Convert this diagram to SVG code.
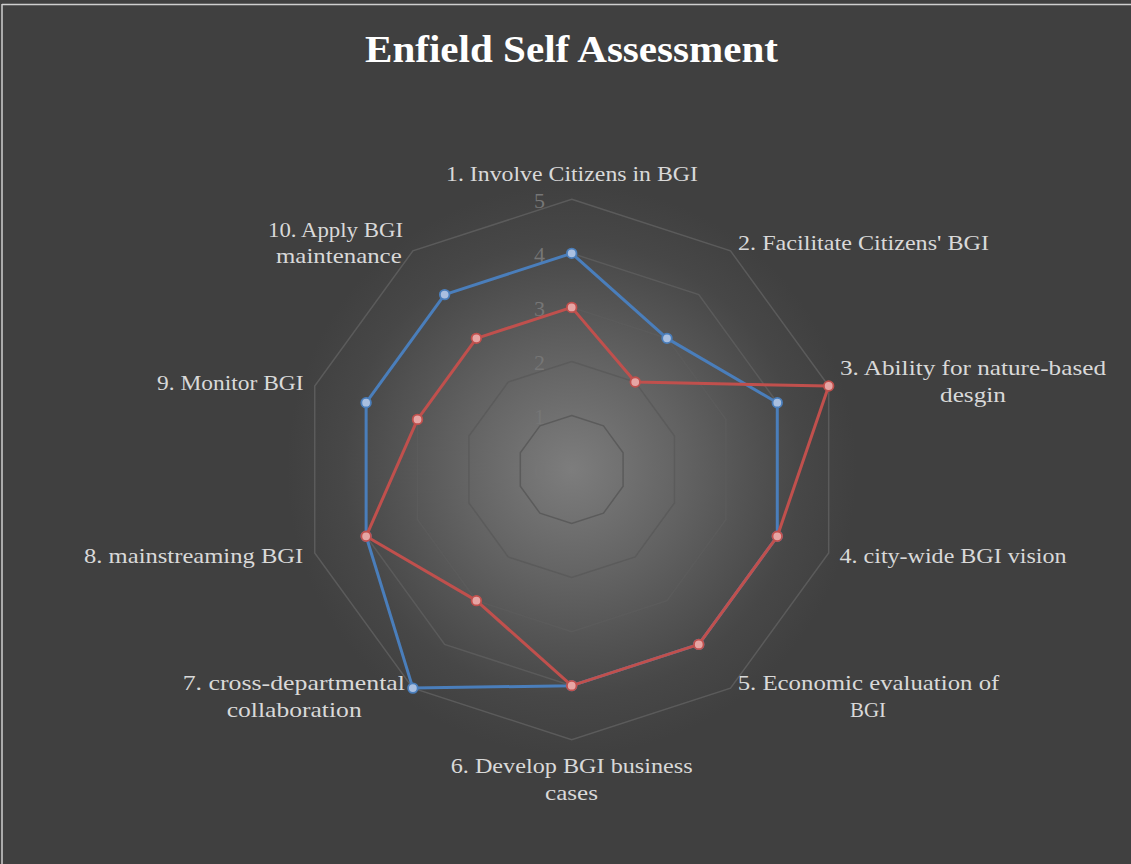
<svg xmlns="http://www.w3.org/2000/svg" width="1131" height="864" viewBox="0 0 1131 864">
<defs>
<radialGradient id="bgGrad" cx="571.7" cy="469.5" r="285" gradientUnits="userSpaceOnUse">
<stop offset="0" stop-color="#7d7d7d"/>
<stop offset="0.4" stop-color="#626262"/>
<stop offset="0.6" stop-color="#545454"/>
<stop offset="0.8" stop-color="#474747"/>
<stop offset="1" stop-color="#404040"/>
</radialGradient>
<style>
.grid{fill:none;stroke:#5b5b5b;stroke-width:1.5}
.val{font-family:"Liberation Serif",serif;font-size:22px;fill:#767676;text-anchor:end}
.cat{font-family:"Liberation Serif",serif;font-size:22px;fill:#d9d9d9}
.title{font-family:"Liberation Serif",serif;font-size:37px;font-weight:bold;fill:#ffffff;text-anchor:middle}
.blue{fill:none;stroke:#4a7ebb;stroke-width:3;stroke-linejoin:round}
.red{fill:none;stroke:#c0504d;stroke-width:3;stroke-linejoin:round}
.bm{fill:#a9bfe0;stroke:#4a7ebb;stroke-width:1.8}
.rm{fill:#e6a5a4;stroke:#c0504d;stroke-width:1.8}
</style>
</defs>
<rect x="0" y="0" width="1131" height="864" fill="#404040"/>
<circle cx="571.7" cy="469.5" r="285" fill="url(#bgGrad)"/>
<line x1="2" y1="4.5" x2="1131" y2="4.5" stroke="#cfcfcf" stroke-width="1.5"/>
<line x1="2" y1="4" x2="2" y2="864" stroke="#cfcfcf" stroke-width="1.5"/>

<text class="title" x="571.5" y="61.5" textLength="413" lengthAdjust="spacingAndGlyphs">Enfield Self Assessment</text>

<g id="gridlines">
<polygon class="grid" points="571.7,415.46 603.46,425.78 623.10,452.80 623.10,486.20 603.46,513.22 571.7,523.54 539.94,513.22 520.30,486.20 520.30,452.80 539.94,425.78"/>
<polygon class="grid" points="571.7,361.42 635.23,382.06 674.49,436.10 674.49,502.90 635.23,556.94 571.7,577.58 508.17,556.94 468.91,502.90 468.91,436.10 508.17,382.06"/>
<polygon class="grid" points="571.7,307.38 666.99,338.34 725.88,419.40 725.88,519.60 666.99,600.66 571.7,631.62 476.41,600.66 417.52,519.60 417.52,419.40 476.41,338.34"/>
<polygon class="grid" points="571.7,253.34 698.76,294.62 777.28,402.70 777.28,536.30 698.76,644.38 571.7,685.66 444.64,644.38 366.12,536.30 366.12,402.70 444.64,294.62"/>
<polygon class="grid" points="571.7,199.30 730.52,250.90 828.68,386.00 828.68,553.00 730.52,688.10 571.7,739.80 412.88,688.10 314.72,553.00 314.72,386.00 412.88,250.90"/>
</g>

<g id="axis-values">
<text class="val" x="545" y="478">0</text>
<text class="val" x="545" y="424">1</text>
<text class="val" x="545" y="370">2</text>
<text class="val" x="545" y="316">3</text>
<text class="val" x="545" y="262">4</text>
<text class="val" x="545" y="208">5</text>
</g>

<g id="series-blue">
<polygon class="blue" points="571.7,253.34 666.99,338.34 777.28,402.70 777.28,536.30 698.76,644.38 571.7,685.66 412.88,688.10 366.12,536.30 366.12,402.70 444.64,294.62"/>
<g>
<circle class="bm" cx="571.7" cy="253.34" r="4.8"/>
<circle class="bm" cx="666.99" cy="338.34" r="4.8"/>
<circle class="bm" cx="777.28" cy="402.70" r="4.8"/>
<circle class="bm" cx="777.28" cy="536.30" r="4.8"/>
<circle class="bm" cx="698.76" cy="644.38" r="4.8"/>
<circle class="bm" cx="571.7" cy="685.66" r="4.8"/>
<circle class="bm" cx="412.88" cy="688.10" r="4.8"/>
<circle class="bm" cx="366.12" cy="536.30" r="4.8"/>
<circle class="bm" cx="366.12" cy="402.70" r="4.8"/>
<circle class="bm" cx="444.64" cy="294.62" r="4.8"/>
</g>
</g>

<g id="series-red">
<polygon class="red" points="571.7,307.38 635.23,382.06 828.68,386.00 777.28,536.30 698.76,644.38 571.7,685.66 476.41,600.66 366.12,536.30 417.52,419.40 476.41,338.34"/>
<g>
<circle class="rm" cx="571.7" cy="307.38" r="4.8"/>
<circle class="rm" cx="635.23" cy="382.06" r="4.8"/>
<circle class="rm" cx="828.68" cy="386.00" r="4.8"/>
<circle class="rm" cx="777.28" cy="536.30" r="4.8"/>
<circle class="rm" cx="698.76" cy="644.38" r="4.8"/>
<circle class="rm" cx="571.7" cy="685.66" r="4.8"/>
<circle class="rm" cx="476.41" cy="600.66" r="4.8"/>
<circle class="rm" cx="366.12" cy="536.30" r="4.8"/>
<circle class="rm" cx="417.52" cy="419.40" r="4.8"/>
<circle class="rm" cx="476.41" cy="338.34" r="4.8"/>
</g>
</g>

<g id="category-labels">
<text class="cat" x="446" y="181" textLength="252" lengthAdjust="spacingAndGlyphs">1. Involve Citizens in BGI</text>
<text class="cat" x="738" y="249.5" textLength="251" lengthAdjust="spacingAndGlyphs">2. Facilitate Citizens' BGI</text>
<text class="cat" x="840" y="375" textLength="266" lengthAdjust="spacingAndGlyphs">3. Ability for nature-based</text>
<text class="cat" x="940" y="401.7" textLength="66" lengthAdjust="spacingAndGlyphs">desgin</text>
<text class="cat" x="839.5" y="563.3" textLength="227" lengthAdjust="spacingAndGlyphs">4. city-wide BGI vision</text>
<text class="cat" x="737.7" y="690" textLength="261.6" lengthAdjust="spacingAndGlyphs">5. Economic evaluation of</text>
<text class="cat" x="850" y="716.7" textLength="36" lengthAdjust="spacingAndGlyphs">BGI</text>
<text class="cat" x="450.7" y="773.3" textLength="242" lengthAdjust="spacingAndGlyphs">6. Develop BGI business</text>
<text class="cat" x="545" y="800" textLength="53" lengthAdjust="spacingAndGlyphs">cases</text>
<text class="cat" x="182.7" y="690" textLength="222.3" lengthAdjust="spacingAndGlyphs">7. cross-departmental</text>
<text class="cat" x="226.7" y="716.7" textLength="135" lengthAdjust="spacingAndGlyphs">collaboration</text>
<text class="cat" x="84" y="563.3" textLength="219.3" lengthAdjust="spacingAndGlyphs">8. mainstreaming BGI</text>
<text class="cat" x="157" y="390" textLength="146.5" lengthAdjust="spacingAndGlyphs">9. Monitor BGI</text>
<text class="cat" x="268" y="236.6" textLength="135" lengthAdjust="spacingAndGlyphs">10. Apply BGI</text>
<text class="cat" x="276" y="263.3" textLength="125.7" lengthAdjust="spacingAndGlyphs">maintenance</text>
</g>
</svg>
